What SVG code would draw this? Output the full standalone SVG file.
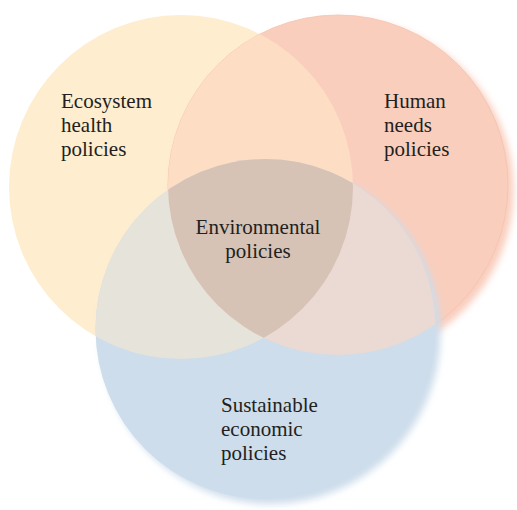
<svg xmlns="http://www.w3.org/2000/svg" width="517" height="510" viewBox="0 0 517 510">
<style>
  text { font-family: "Liberation Serif", "Times New Roman", serif; font-size: 21px; fill: #231f20; }
</style>
<defs>
  <filter id="soft" x="-10%" y="-10%" width="125%" height="125%">
    <feGaussianBlur in="SourceGraphic" stdDeviation="3.5" result="b"/>
    <feOffset in="b" dx="5" dy="5" result="o"/>
    <feMerge><feMergeNode in="o"/><feMergeNode in="SourceGraphic"/></feMerge>
  </filter>
  <clipPath id="cL"><circle cx="181" cy="187" r="172"/></clipPath>
  <clipPath id="cR"><circle cx="338" cy="185" r="170"/></clipPath>
  <clipPath id="cB"><circle cx="265.5" cy="329" r="170"/></clipPath>
</defs>
<rect width="517" height="510" fill="#ffffff"/>
<g id="ecosystem">
  <circle cx="181" cy="187" r="172" fill="#FEEDCF"/>
</g>
<g id="human">
  <circle cx="338" cy="185" r="170" fill="#F9CEBD" stroke="#F5C2AF" stroke-width="0.8" filter="url(#soft)"/>
</g>
<g id="sustainable">
  <circle cx="265.5" cy="329" r="170" fill="#CDDDEB" filter="url(#soft)"/>
</g>
<g id="overlaps">
  <g clip-path="url(#cL)"><circle cx="338" cy="185" r="170" fill="#FDDEC4"/></g>
  <g clip-path="url(#cL)"><circle cx="265.5" cy="329" r="170" fill="#E5E3DA"/></g>
  <g clip-path="url(#cR)"><circle cx="265.5" cy="329" r="170" fill="#EBD9D3"/></g>
  <g clip-path="url(#cL)"><g clip-path="url(#cR)"><circle cx="265.5" cy="329" r="170" fill="#D6C3B5"/></g></g>
</g>
<g id="labels">
  <text x="61" y="108">Ecosystem</text>
  <text x="61" y="132">health</text>
  <text x="61" y="156">policies</text>
  <text x="384" y="108">Human</text>
  <text x="384" y="132">needs</text>
  <text x="384" y="156">policies</text>
  <text x="258" y="234" text-anchor="middle">Environmental</text>
  <text x="258" y="258" text-anchor="middle">policies</text>
  <text x="221" y="412">Sustainable</text>
  <text x="221" y="436">economic</text>
  <text x="221" y="460">policies</text>
</g>
</svg>
